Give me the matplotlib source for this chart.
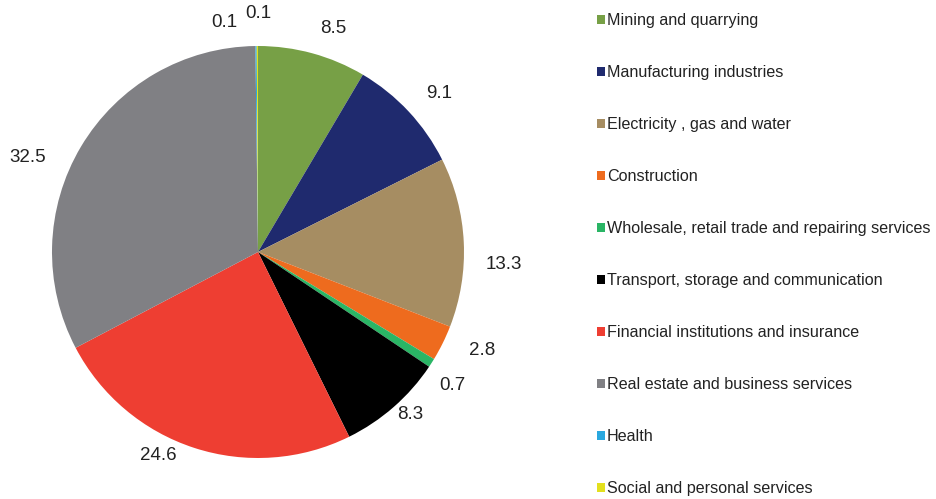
import matplotlib.pyplot as plt
from matplotlib.patches import Patch

plt.rcParams['font.family'] = ['Liberation Sans', 'DejaVu Sans']

sectors = ['Mining and quarrying', 'Manufacturing industries', 'Electricity , gas and water',
           'Construction', 'Wholesale, retail trade and repairing services',
           'Transport, storage and communication', 'Financial institutions and insurance',
           'Real estate and business services', 'Health', 'Social and personal services']
shares = [8.5, 9.1, 13.3, 2.8, 0.7, 8.3, 24.6, 32.5, 0.1, 0.1]
colors = ['#77a046', '#1f2a6e', '#a68d62', '#ee6b1e', '#2ab565', '#000000',
          '#ee3e32', '#808084', '#2aa8df', '#e3e01e']

# where each value label sits, in units of the pie radius
label_pos = [(0.364, 1.087), (0.879, 0.767), (1.194, -0.063), (1.087, -0.476),
             (0.942, -0.650), (0.738, -0.791), (-0.485, -0.990), (-1.117, 0.461),
             (-0.165, 1.112), (0.0, 1.160)]

fig = plt.figure(figsize=(9.37, 4.99), dpi=100)
ax = fig.add_axes([52 / 937, 41 / 499, 412 / 937, 412 / 499])

wedges, texts = ax.pie(shares, colors=colors, startangle=90, counterclock=False,
                       labels=[f'{v:.1f}' for v in shares], labeldistance=1.14,
                       radius=1.0, wedgeprops=dict(linewidth=0),
                       textprops=dict(fontsize=13.5, color='#222222', ha='center', va='center'))
for t, p in zip(texts, label_pos):
    t.set_position(p)
ax.set_xlim(-1, 1)
ax.set_ylim(-1, 1)
ax.set_aspect('equal')

handles = [Patch(facecolor=c, edgecolor='none') for c in colors]
leg = fig.legend(handles, sectors, loc='upper left', bbox_to_anchor=(597 / 937, 1 - 13 / 499),
                 frameon=False, fontsize=11.6, handlelength=0.5, handleheight=0.5,
                 handletextpad=0.12, labelspacing=2.3, borderaxespad=0, borderpad=0)
for t in leg.get_texts():
    t.set_color('#222222')

fig.savefig('out.png', dpi=100)
